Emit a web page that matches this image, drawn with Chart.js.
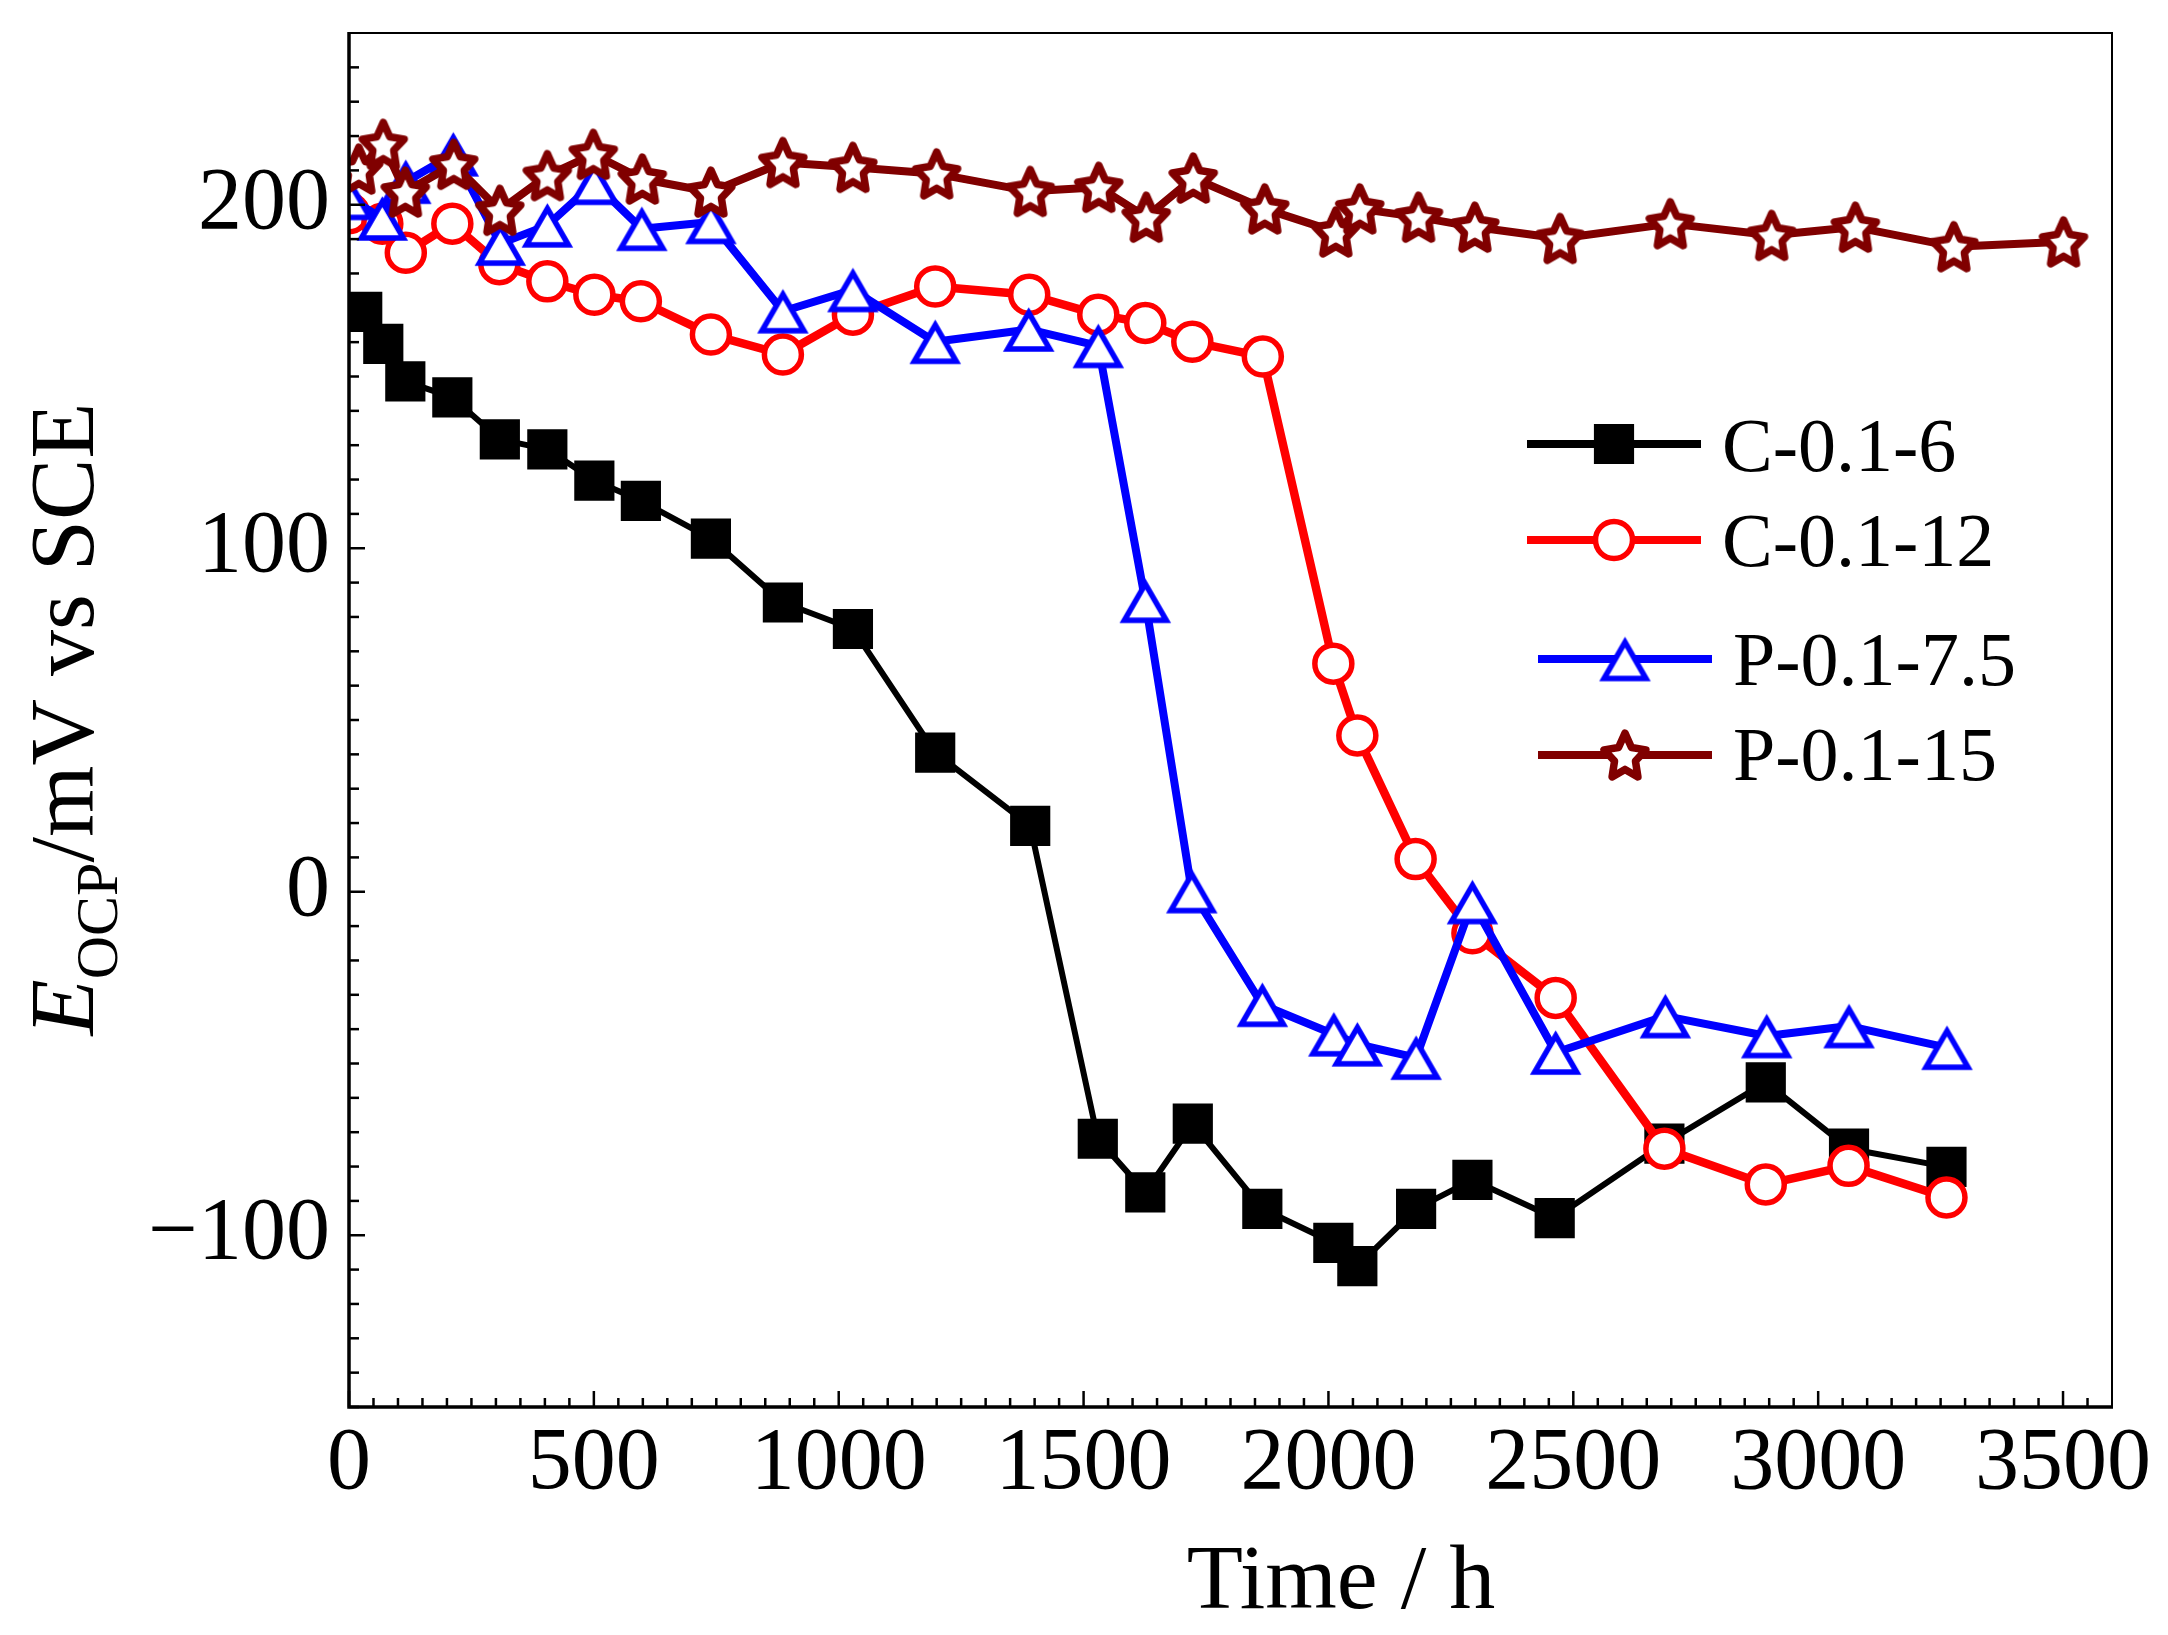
<!DOCTYPE html>
<html>
<head>
<meta charset="utf-8">
<script src="https://cdn.jsdelivr.net/npm/chart.js@4.4.1/dist/chart.umd.min.js"></script>
<style>
html,body{margin:0;padding:0;background:#ffffff;}
#wrap{width:2168px;height:1635px;position:relative;}
</style>
</head>
<body>
<div id="wrap"><canvas id="c" width="2168" height="1635"></canvas></div>
<script>
// ---------------- data ----------------
const seriesNames = ['C-0.1-6', 'C-0.1-12', 'P-0.1-7.5', 'P-0.1-15'];

const timeC6  = [27, 70, 115, 211, 308, 405, 501, 596, 739, 886, 1029, 1197, 1391, 1529, 1626, 1723, 1865, 2010, 2059, 2179, 2294, 2462, 2686, 2893, 3063, 3262];
const eocpC6  = [168.8, 159.5, 148.6, 143.9, 131.7, 128.8, 119.7, 113.8, 102.8, 84.2, 76.5, 40.5, 19.2, -71.9, -87.5, -67.5, -92.3, -102.2, -109, -92.3, -83.9, -95, -73.3, -55.5, -74.8, -80.1];

const timeC12 = [0, 68, 116, 211, 307, 405, 501, 596, 739, 886, 1029, 1197, 1389, 1530, 1626, 1722, 1866, 2010, 2059, 2178, 2294, 2464, 2686, 2893, 3062, 3262];
const eocpC12 = [197.5, 194.5, 186, 194.5, 182.7, 177.7, 173.8, 171.9, 162.2, 156.4, 168, 176.2, 173.8, 168, 165.6, 160.1, 155.8, 66.4, 45.5, 9.5, -12.1, -30.9, -74.8, -85.2, -79.8, -89];

const timeP75 = [0, 68, 116, 213, 309, 405, 501, 598, 739, 886, 1029, 1197, 1388, 1530, 1626, 1721, 1865, 2011, 2059, 2179, 2294, 2464, 2688, 2895, 3063, 3263];
const eocpP75 = [202, 196, 206.7, 214.7, 188.7, 194, 206.4, 193, 195, 169, 175.2, 160.1, 163.7, 158.9, 84.7, 0.2, -32.9, -41.5, -44.4, -48.3, -3, -46.8, -36.2, -42, -39.1, -45.4];

const timeP15 = [20, 70, 115, 214, 308, 405, 499, 599, 739, 886, 1029, 1200, 1391, 1531, 1628, 1724, 1870, 2015, 2064, 2184, 2299, 2473, 2698, 2905, 3076, 3277, 3501];
const eocpP15 = [210.4, 217.6, 203.7, 211.8, 198.4, 208.5, 214.7, 207.5, 203.7, 212.3, 210.9, 209, 203.9, 205.1, 196.4, 207.8, 198.8, 192.1, 198.8, 196.4, 193.5, 190.2, 194.5, 191.1, 193.5, 187.8, 189.2];

const xTickValues = [0, 500, 1000, 1500, 2000, 2500, 3000, 3500];
const yTickValues = [-100, 0, 100, 200];
const xRange = [0, 3600];
const yRange = [-150, 250];

// ---------------- styles ----------------
const FONT = "'Liberation Serif', 'Times New Roman', serif";
const colBlack = '#000000', colRed = '#ff0000', colBlue = '#0000ff', colMaroon = '#800000';

function makeTriangle(color, fill, side, lw) {
  const h = side * Math.sqrt(3) / 2;
  const size = Math.ceil(side + lw * 3 + 6);
  const c = document.createElement('canvas');
  c.width = size; c.height = size;
  const g = c.getContext('2d');
  const cx = size / 2, cy = size / 2 + lw / 4;
  g.beginPath();
  g.moveTo(cx, cy - h / 2);
  g.lineTo(cx + side / 2, cy + h / 2);
  g.lineTo(cx - side / 2, cy + h / 2);
  g.closePath();
  g.fillStyle = fill; g.fill();
  g.lineWidth = lw; g.lineJoin = 'miter'; g.strokeStyle = color; g.stroke();
  return c;
}
function makeStar(color, fill, R, ratio, lw, sy) {
  const size = Math.ceil(2 * R * sy + lw * 2 + 8);
  const c = document.createElement('canvas');
  c.width = size; c.height = size;
  const g = c.getContext('2d');
  const cx = size / 2, cy = size / 2 + R * sy * (1 - Math.cos(Math.PI / 5)) / 2;
  g.beginPath();
  for (let i = 0; i < 10; i++) {
    const rr = (i % 2) ? R * ratio : R;
    const a = -Math.PI / 2 + i * Math.PI / 5;
    const px = cx + rr * Math.cos(a), py = cy + rr * Math.sin(a) * sy;
    if (i === 0) g.moveTo(px, py); else g.lineTo(px, py);
  }
  g.closePath();
  g.fillStyle = fill; g.fill();
  g.lineWidth = lw; g.lineJoin = 'round'; g.strokeStyle = color; g.stroke();
  return c;
}
const triImg = makeTriangle(colBlue, '#ffffff', 42, 5.5);
const starImg = makeStar(colMaroon, '#ffffff', 22, 0.5, 7.5, 1.1);

function pts(xs, ys) { return xs.map((x, i) => ({ x: x, y: ys[i] })); }

const datasets = [
  { label: seriesNames[0], data: pts(timeC6, eocpC6), borderColor: colBlack, borderWidth: 6,
    pointStyle: 'rect', pointRadius: 27, pointBackgroundColor: colBlack, pointBorderColor: colBlack, pointBorderWidth: 2, order: 3 },
  { label: seriesNames[1], data: pts(timeC12, eocpC12), borderColor: colRed, borderWidth: 8.5,
    pointStyle: 'circle', pointRadius: 18.5, pointBackgroundColor: '#ffffff', pointBorderColor: colRed, pointBorderWidth: 5.5, order: 2 },
  { label: seriesNames[2], data: pts(timeP75, eocpP75), borderColor: colBlue, borderWidth: 8,
    pointStyle: triImg, pointRadius: 25, pointBackgroundColor: '#ffffff', pointBorderColor: colBlue, order: 1 },
  { label: seriesNames[3], data: pts(timeP15, eocpP15), borderColor: colMaroon, borderWidth: 8,
    pointStyle: starImg, pointRadius: 25, pointBackgroundColor: '#ffffff', pointBorderColor: colMaroon, order: 0 }
];
datasets.forEach(d => { d.tension = 0; d.fill = false; d.pointHoverRadius = d.pointRadius; d.borderJoinStyle = 'round'; });

// ---------------- plugins ----------------
const frameTicks = {
  id: 'frameTicks',
  afterDatasetsDraw(chart) {
    const ctx = chart.ctx, a = chart.chartArea;
    const xs = chart.scales.x, ys = chart.scales.y;
    ctx.save();
    ctx.strokeStyle = '#000'; ctx.lineCap = 'butt';
    ctx.lineWidth = 2.5;
    for (let v = xRange[0]; v < xRange[1]; v += 50) {
      const px = xs.getPixelForValue(v);
      const len = (v % 500 === 0) ? 16 : 9;
      ctx.beginPath(); ctx.moveTo(px, a.bottom); ctx.lineTo(px, a.bottom - len); ctx.stroke();
    }
    for (let v = yRange[0]; v < yRange[1]; v += 10) {
      const py = ys.getPixelForValue(v);
      const len = (v % 100 === 0) ? 16 : 10;
      ctx.beginPath(); ctx.moveTo(a.left, py); ctx.lineTo(a.left + len, py); ctx.stroke();
    }
    ctx.lineWidth = 2;
    ctx.beginPath(); ctx.moveTo(a.left, a.top); ctx.lineTo(a.right, a.top); ctx.lineTo(a.right, a.bottom); ctx.stroke();
    ctx.lineWidth = 3.5;
    ctx.beginPath(); ctx.moveTo(a.left, a.top - 1); ctx.lineTo(a.left, a.bottom); ctx.lineTo(a.right + 1, a.bottom); ctx.stroke();
    ctx.restore();
  }
};

const legendRows = [
  { ds: 0, lineY: 444, x1: 1527, x2: 1701, textX: 1722, baseY: 471 },
  { ds: 1, lineY: 540, x1: 1527, x2: 1701, textX: 1722, baseY: 566 },
  { ds: 2, lineY: 659, x1: 1538, x2: 1712, textX: 1733, baseY: 685 },
  { ds: 3, lineY: 755, x1: 1538, x2: 1712, textX: 1733, baseY: 780 }
];

const customText = {
  id: 'customText',
  afterDraw(chart) {
    const ctx = chart.ctx;
    ctx.save();
    legendRows.forEach(r => {
      const d = chart.data.datasets[r.ds];
      ctx.strokeStyle = d.borderColor; ctx.lineWidth = 8; ctx.lineCap = 'butt';
      ctx.beginPath(); ctx.moveTo(r.x1, r.lineY); ctx.lineTo(r.x2, r.lineY); ctx.stroke();
      const cx = (r.x1 + r.x2) / 2;
      ctx.fillStyle = d.pointBackgroundColor; ctx.strokeStyle = d.pointBorderColor; ctx.lineWidth = d.pointBorderWidth || 1;
      if (typeof d.pointStyle === 'string') {
        ctx.beginPath();
        if (d.pointStyle === 'rect') {
          const s = Math.SQRT1_2 * d.pointRadius;
          ctx.rect(cx - s, r.lineY - s, 2 * s, 2 * s);
        } else {
          ctx.arc(cx, r.lineY, d.pointRadius, 0, Math.PI * 2);
        }
        ctx.fill(); ctx.stroke();
      } else {
        Chart.helpers.drawPoint(ctx, { pointStyle: d.pointStyle, radius: d.pointRadius, rotation: 0, borderWidth: 0 }, cx, r.lineY);
      }
      ctx.fillStyle = '#000';
      ctx.font = '76px ' + FONT;
      ctx.textAlign = 'left'; ctx.textBaseline = 'alphabetic';
      ctx.fillText(d.label, r.textX, r.baseY);
    });
    ctx.fillStyle = '#000';
    ctx.font = '92px ' + FONT;
    ctx.textAlign = 'center'; ctx.textBaseline = 'alphabetic';
    ctx.fillText('Time / h', 1341, 1608);
    const parts = [
      { t: 'E', f: 'italic 92px ' + FONT, dy: 0 },
      { t: 'OCP', f: '60px ' + FONT, dy: 24 },
      { t: '/mV vs SCE', f: '92px ' + FONT, dy: 0 }
    ];
    let total = 0;
    parts.forEach(p => { ctx.font = p.f; p.w = ctx.measureText(p.t).width; total += p.w; });
    ctx.translate(93, 719);
    ctx.rotate(-Math.PI / 2);
    ctx.textAlign = 'left';
    let x = -total / 2;
    parts.forEach(p => { ctx.font = p.f; ctx.fillText(p.t, x, p.dy); x += p.w; });
    ctx.restore();
  }
};

// ---------------- chart ----------------
new Chart(document.getElementById('c'), {
  type: 'line',
  data: { datasets: datasets },
  options: {
    responsive: false,
    animation: false,
    devicePixelRatio: 1,
    layout: { padding: { top: 23, right: 56, left: 0, bottom: 0 } },
    plugins: { legend: { display: false }, tooltip: { enabled: false } },
    scales: {
      x: {
        type: 'linear', min: xRange[0], max: xRange[1],
        grid: { display: false, drawTicks: false },
        border: { display: false },
        afterBuildTicks: s => { s.ticks = xTickValues.map(v => ({ value: v })); },
        afterFit: s => { s.height = 228; s.paddingLeft = 0; s.paddingRight = 0; },
        ticks: { color: '#000', font: { family: FONT, size: 88 }, padding: 5, maxRotation: 0, autoSkip: false,
          callback: v => String(v) }
      },
      y: {
        type: 'linear', min: yRange[0], max: yRange[1],
        grid: { display: false, drawTicks: false },
        border: { display: false },
        afterBuildTicks: s => { s.ticks = yTickValues.map(v => ({ value: v })); },
        afterFit: s => { s.width = 349; s.paddingTop = 0; s.paddingBottom = 0; },
        ticks: { color: '#000', font: { family: FONT, size: 88 }, padding: 19,
          callback: v => (v < 0 ? '\u2212' + Math.abs(v) : String(v)) }
      }
    }
  },
  plugins: [frameTicks, customText]
});
</script>
</body>
</html>
